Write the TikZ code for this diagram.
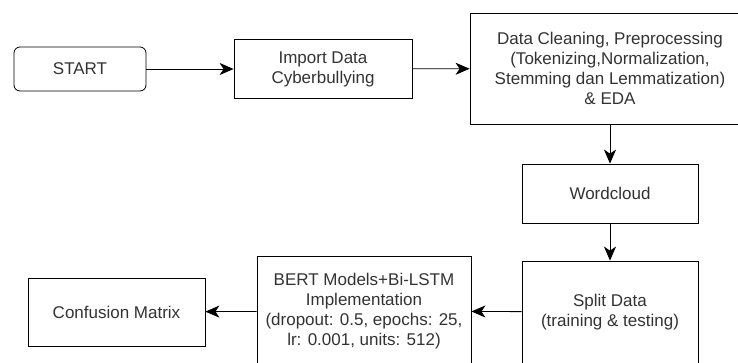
\documentclass[tikz,border=0pt]{standalone}
\usepackage{fontspec}
\setmainfont{Liberation Sans}
\usepackage{xcolor}
\usetikzlibrary{shapes,positioning,arrows.meta}
\definecolor{txtgray}{HTML}{333333}
\tikzset{box/.style={rectangle,draw,thick,align=center,text=txtgray,inner sep=2pt,font=\fontsize{17pt}{20pt}\selectfont}}
\tikzset{startbox/.style={box,rounded corners=6pt}}

\begin{document}
\begin{tikzpicture}[x=1pt,y=-1pt,>={Stealth[length=14pt,width=12pt,inset=4pt]}]
        \clip (0,0) rectangle (738,362);
        \fill[white] (0,0) rectangle (738,362);

        \node[startbox,minimum width=132pt,minimum height=44pt] (start) at (80,69) {START};
        \node[box,minimum width=178pt,minimum height=59pt] (import) at (323,69) {Import Data\\Cyberbullying};
        \node[box,minimum width=280pt,minimum height=111pt] (clean) at (610,68.5) {Data Cleaning, Preprocessing\\(Tokenizing,Normalization,\\Stemming dan Lemmatization)\\\& EDA};
        \node[box,minimum width=176pt,minimum height=59pt] (wc) at (610,193.5) {Wordcloud};
        \node[box,minimum width=176pt,minimum height=102pt] (split) at (610,312) {Split Data\\(training \& testing)};
        \node[box,minimum width=214pt,minimum height=110pt] (bert) at (364,311) {BERT Models+Bi-LSTM\\Implementation\\(dropout: 0.5, epochs: 25,\\lr: 0.001, units: 512)};
        \node[box,minimum width=177pt,minimum height=68pt] (cm) at (116.5,312) {Confusion Matrix};

        \draw [->,thick] (start) to (import);
        \draw [->,thick] (import) to (clean);
        \draw [->,thick] (clean) to (wc);
        \draw [->,thick] (wc) to (split);
        \draw [->,thick] (split) to (bert);
        \draw [->,thick] (bert) to (cm);
    \end{tikzpicture}
\end{document}
